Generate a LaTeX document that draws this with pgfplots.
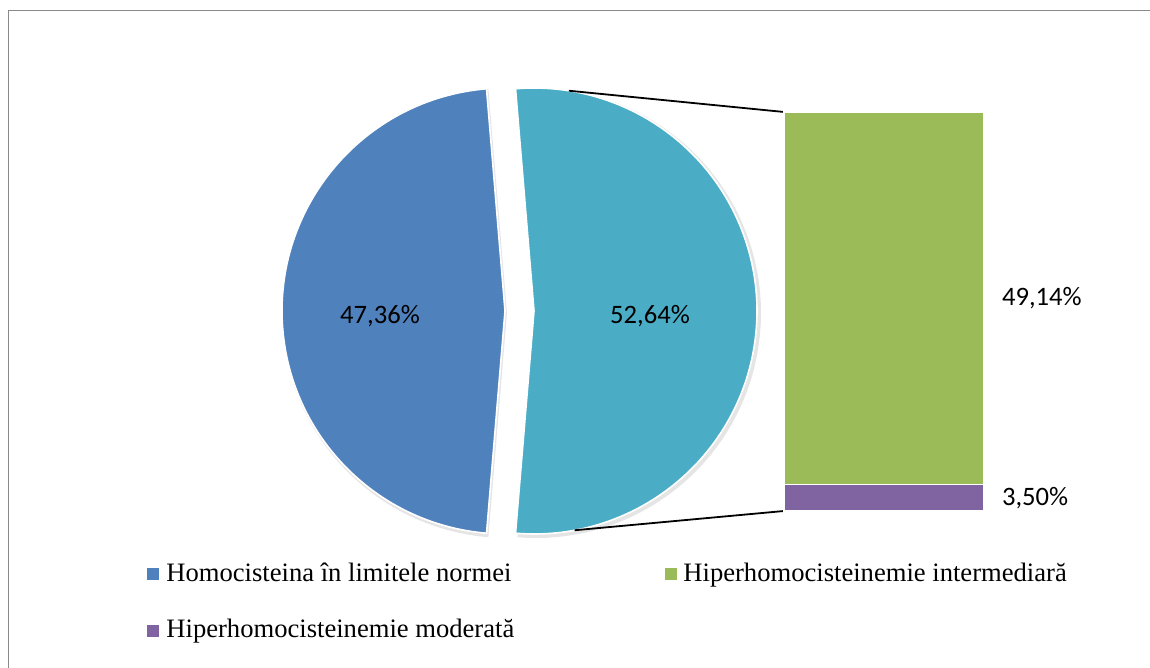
\documentclass[border=0pt]{standalone}
\usepackage{pgfplots}
\pgfplotsset{compat=1.18}
\usepackage{fontspec}
\setmainfont{Liberation Serif}
\newfontfamily\numfont{Carlito}

\definecolor{cNorm}{HTML}{4F81BD}
\definecolor{cHyper}{HTML}{4BACC6}
\definecolor{cInter}{HTML}{9BBB59}
\definecolor{cMod}{HTML}{8064A2}
\definecolor{cFrame}{HTML}{8A8A8A}

% shares of the pie (%)
\def\pNorm{47.36}
\def\pHyper{52.64}
% split of the hyperhomocysteinaemia slice (%)
\def\pMod{3.50}
\def\pInter{49.14}

\begin{document}
\begin{tikzpicture}
% one unit of the layout axis = 0.5pt
\pgfmathsetmacro\half{1.8*\pHyper}
\pgfmathsetmacro\nStart{\half}
\pgfmathsetmacro\nEnd{\half+3.6*\pNorm}
\def\R{111.5pt}
\begin{axis}[
  at={(0,0)}, anchor=south west,
  width=575pt, height=334pt, scale only axis,
  xmin=0, xmax=1150, ymin=0, ymax=668,
  hide axis, clip=false]
  % chart frame
  \draw[cFrame, line width=0.8pt] (axis cs:1160,657.5) -- (axis cs:8.5,657.5) -- (axis cs:8.5,-10);
  % soft shadows of the slices
  \fill[black, opacity=0.10] (axis cs:507,355) -- ++(\nStart:\R+1pt) arc[start angle=\nStart, end angle=\nEnd, radius=\R+1pt] -- cycle;
  \fill[black, opacity=0.10] (axis cs:536,355) -- ++(-\half:\R+1pt) arc[start angle=-\half, end angle=\half, radius=\R+1pt] -- cycle;
  % slice: homocysteine within normal limits
  \filldraw[fill=cNorm, draw=white, line width=0.8pt, line join=round]
    (axis cs:505,357) -- ++(\nStart:\R) arc[start angle=\nStart, end angle=\nEnd, radius=\R] -- cycle;
  % slice: hyperhomocysteinaemia (exploded)
  \filldraw[fill=cHyper, draw=white, line width=0.8pt, line join=round]
    (axis cs:534,357) -- ++(-\half:\R) arc[start angle=-\half, end angle=\half, radius=\R] -- cycle;
  % connector lines to the split bar
  \draw[black, line width=0.9pt] (axis cs:534,357) ++(81:\R) -- (axis cs:784,556);
  \draw[black, line width=0.9pt] (axis cs:534,357) ++(-79.5:\R) -- (axis cs:784,157);
  % slice labels
  \node[font=\numfont\fontsize{13.3}{15}\selectfont] at (axis cs:380,352) {47,36\%};
  \node[font=\numfont\fontsize{13.3}{15}\selectfont] at (axis cs:650,352) {52,64\%};
  % legend
  \fill[cNorm] (axis cs:147,88) rectangle (axis cs:159,100);
  \node[anchor=base west, inner sep=0pt, font=\fontsize{13.3}{16}\selectfont] at (axis cs:166,86) {Homocisteina în limitele normei};
  \fill[cInter] (axis cs:665,88) rectangle (axis cs:677,100);
  \node[anchor=base west, inner sep=0pt, font=\fontsize{13.3}{16}\selectfont] at (axis cs:683,86) {Hiperhomocisteinemie intermediară};
  \fill[cMod] (axis cs:147,31) rectangle (axis cs:159,43);
  \node[anchor=base west, inner sep=0pt, font=\fontsize{13.3}{16}\selectfont] at (axis cs:166,30) {Hiperhomocisteinemie moderată};
  \coordinate (barSW) at (axis cs:784,157);
  \coordinate (pageSW) at (axis cs:0,0);
  \coordinate (pageNE) at (axis cs:1150,668);
\end{axis}
% split bar of the hyperhomocysteinaemia slice
\begin{axis}[
  at={(barSW)}, anchor=south west,
  width=100pt, height=199.5pt, scale only axis,
  xmin=0, xmax=1, ymin=0, ymax=\pHyper,
  hide axis, clip=false,
  ybar stacked, bar width=100pt, bar shift=0pt]
  \addplot[fill=cMod, draw=white, line width=0.8pt] coordinates {(0.5,\pMod)};
  \addplot[fill=cInter, draw=white, line width=0.8pt] coordinates {(0.5,\pInter)};
  \node[anchor=west, xshift=5.5pt, font=\numfont\fontsize{13.3}{15}\selectfont] at (axis cs:1,\pMod/2) {3,50\%};
  \node[anchor=west, xshift=5.5pt, font=\numfont\fontsize{13.3}{15}\selectfont] at (axis cs:1,\pMod+\pInter/2) {49,14\%};
\end{axis}
\pgfresetboundingbox
\useasboundingbox (pageSW) rectangle (pageNE);
\end{tikzpicture}
\end{document}
